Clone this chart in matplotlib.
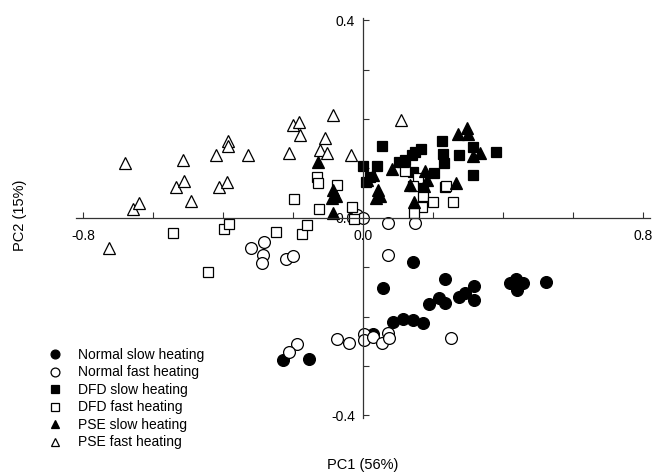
import matplotlib
matplotlib.use("Agg")
import matplotlib.pyplot as plt
from matplotlib.lines import Line2D
from matplotlib.ticker import MultipleLocator, FuncFormatter

plt.rcParams['font.family'] = ['Liberation Sans', 'DejaVu Sans']
plt.rcParams['axes.unicode_minus'] = False

# values (PC1, PC2)
normal_slow_x = [0.143, 0.055, 0.233, 0.189, 0.217, 0.233, 0.274, 0.291, 0.316, 0.316, 0.419,
                 0.436, 0.457, 0.440, 0.522, 0.086, 0.113, 0.143, 0.171, 0.027, -0.229, -0.155]
normal_slow_y = [-0.090, -0.142, -0.125, -0.175, -0.162, -0.173, -0.161, -0.153, -0.138, -0.167, -0.133,
                 -0.125, -0.133, -0.146, -0.130, -0.211, -0.204, -0.208, -0.214, -0.235, -0.288, -0.285]

normal_fast_x = [-0.322, -0.284, -0.287, -0.290, -0.221, -0.200, -0.019, -0.002, 0.071, 0.148, 0.071,
                 -0.074, -0.040, 0.002, 0.002, 0.027, 0.053, 0.071, 0.074, 0.251, -0.190, -0.211]
normal_fast_y = [-0.062, -0.049, -0.076, -0.092, -0.084, -0.078, 0.005, -0.001, -0.010, -0.010, -0.076,
                 -0.246, -0.253, -0.236, -0.248, -0.241, -0.254, -0.233, -0.243, -0.244, -0.256, -0.272]

dfd_slow_x = [0.053, 0.000, 0.040, 0.019, 0.008, 0.103, 0.119, 0.138, 0.148, 0.164, 0.143,
              0.224, 0.229, 0.231, 0.274, 0.202, 0.170, 0.233, 0.313, 0.314, 0.379]
dfd_slow_y = [0.145, 0.105, 0.105, 0.082, 0.072, 0.113, 0.117, 0.127, 0.134, 0.140, 0.093,
              0.156, 0.130, 0.111, 0.127, 0.090, 0.064, 0.062, 0.086, 0.143, 0.134]

dfd_fast_x = [-0.543, -0.398, -0.383, -0.443, -0.249, -0.176, -0.160, -0.198, -0.126, -0.131, -0.129,
              -0.076, -0.033, -0.027, 0.119, 0.157, 0.143, 0.171, 0.198, 0.167, 0.145, 0.236, 0.257]
dfd_fast_y = [-0.030, -0.022, -0.013, -0.109, -0.029, -0.032, -0.015, 0.038, 0.018, 0.082, 0.071,
              0.066, 0.021, -0.003, 0.095, 0.080, 0.064, 0.044, 0.032, 0.021, 0.009, 0.064, 0.032]

pse_slow_x = [-0.129, -0.086, -0.090, -0.078, -0.087, 0.010, 0.029, 0.043, 0.048, 0.036, 0.081, 0.113,
              0.133, 0.146, 0.175, 0.181, 0.173, 0.265, 0.271, 0.297, 0.299, 0.313, 0.333]
pse_slow_y = [0.113, 0.056, 0.039, 0.043, 0.009, 0.076, 0.086, 0.056, 0.043, 0.039, 0.099, 0.115,
              0.066, 0.032, 0.095, 0.077, 0.064, 0.070, 0.170, 0.182, 0.170, 0.125, 0.131]

pse_fast_x = [-0.681, -0.726, -0.659, -0.640, -0.516, -0.535, -0.512, -0.493, -0.421, -0.387, -0.387, -0.411,
              -0.390, -0.329, -0.200, -0.184, -0.181, -0.086, -0.109, -0.124, -0.103, -0.211, -0.035, 0.107]
pse_fast_y = [0.110, -0.062, 0.018, 0.030, 0.117, 0.063, 0.074, 0.034, 0.127, 0.156, 0.145, 0.063,
              0.073, 0.127, 0.188, 0.194, 0.167, 0.208, 0.161, 0.138, 0.132, 0.132, 0.127, 0.198]

labels = ["Normal slow heating", "Normal fast heating", "DFD slow heating",
          "DFD fast heating", "PSE slow heating", "PSE fast heating"]


def style(marker, filled):
    face = "black" if filled else "white"
    size = {"o": 8.5, "s": 7.5, "^": 8.5}[marker]
    return dict(marker=marker, markersize=size, markerfacecolor=face,
                markeredgecolor="black", markeredgewidth=0.9, linestyle="none")


def fmt(keep):
    def f(v, pos):
        for k in keep:
            if abs(v - k) < 1e-6:
                return "%.1f" % k
        return ""
    return FuncFormatter(f)


def main():
    fig = plt.figure(figsize=(6.55, 4.75), dpi=100)
    ax = fig.add_axes([0.1165, 0.1204, 0.8763, 0.8424])

    series = [
        (normal_slow_x, normal_slow_y, "o", True),
        (normal_fast_x, normal_fast_y, "o", False),
        (dfd_slow_x, dfd_slow_y, "s", True),
        (dfd_fast_x, dfd_fast_y, "s", False),
        (pse_slow_x, pse_slow_y, "^", True),
        (pse_fast_x, pse_fast_y, "^", False),
    ]
    for x, y, m, filled in series:
        ax.plot(x, y, **style(m, filled))

    ax.set_xlim(-0.82, 0.82)
    ax.set_ylim(-0.405, 0.405)

    ax.spines['left'].set_position(('data', 0))
    ax.spines['bottom'].set_position(('data', 0))
    ax.spines['top'].set_visible(False)
    ax.spines['right'].set_visible(False)
    for s in ('left', 'bottom'):
        ax.spines[s].set_linewidth(0.9)
        ax.spines[s].set_color("#333333")

    ax.xaxis.set_major_locator(MultipleLocator(0.2))
    ax.yaxis.set_major_locator(MultipleLocator(0.1))
    ax.xaxis.set_major_formatter(fmt([-0.8, 0.0, 0.8]))
    ax.yaxis.set_major_formatter(fmt([-0.4, 0.0, 0.4]))
    ax.tick_params(direction="in", length=4, width=0.8, labelsize=10, pad=6, color="#333333")
    ax.tick_params(axis="x", pad=8)
    ax.set_axisbelow(True)

    fig.text(0.553, 0.006, "PC1 (56%)", ha="center", va="bottom", fontsize=10.5)
    fig.text(0.03, 0.547, "PC2 (15%)", ha="center", va="center", rotation=90, fontsize=10.5)

    handles = []
    for x, y, m, filled in series:
        st = style(m, filled)
        st["markersize"] = st["markersize"] * 0.75
        handles.append(Line2D([], [], **st))
    fig.legend(handles, labels, loc="upper left", bbox_to_anchor=(48 / 655, 1 - 348 / 475),
               frameon=False, fontsize=10, handlelength=1.0, handletextpad=1.16,
               labelspacing=0.25, borderpad=0, borderaxespad=0)

    fig.savefig("out.png", dpi=100)


if __name__ == "__main__":
    main()
